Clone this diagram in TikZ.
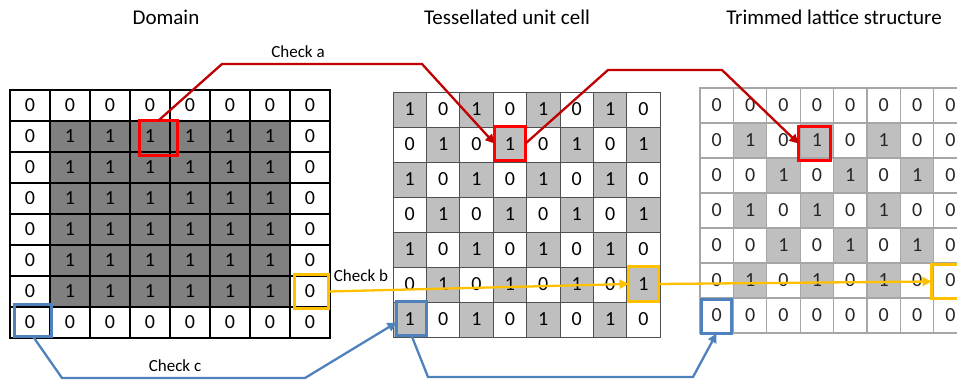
\documentclass[tikz,border=0pt]{standalone}
\usepackage{fontspec}
\setmainfont{Carlito}
\usetikzlibrary{arrows.meta}
\definecolor{dkfill}{HTML}{808080}
\definecolor{ltfill}{HTML}{BFBFBF}
\definecolor{boxred}{HTML}{FF0000}
\definecolor{linered}{HTML}{C00000}
\definecolor{gold}{HTML}{FFC000}
\definecolor{steel}{HTML}{4F81BD}
\definecolor{gtwoline}{HTML}{505050}
\definecolor{gthreeline}{HTML}{A6A6A6}
\definecolor{textgrey}{HTML}{262626}
\begin{document}
\begin{tikzpicture}[x=1pt,y=-1pt,
  cellA/.style={draw=black, line width=1.3pt, minimum width=40pt, minimum height=31pt, inner sep=0pt, outer sep=0pt, font=\fontsize{20}{23}\selectfont},
  cellB/.style={draw=gtwoline, line width=0.8pt, minimum width=33.4pt, minimum height=35pt, inner sep=0pt, outer sep=0pt, font=\fontsize{20}{23}\selectfont},
  cellC/.style={draw=gthreeline, line width=1.3pt, minimum width=33.4pt, minimum height=35pt, inner sep=0pt, outer sep=0pt, text=textgrey, font=\fontsize{20}{23}\selectfont},
  hbox/.style={line width=3pt, inner sep=0pt, outer sep=0pt},
  conn/.style={line width=2.3pt},
  tip/.style={-{Triangle[length=9pt,width=9pt]}},
  title/.style={font=\fontsize{21}{25}\selectfont, anchor=base, inner sep=0pt},
  lbl/.style={font=\fontsize{17}{20}\selectfont, anchor=base, inner sep=0pt}]
\fill[white] (0,0) rectangle (957,382);
\useasboundingbox (0,0) rectangle (957,382);
\begin{scope}
\clip (0,0) rectangle (957,382);
% titles
\node[title] (tdom) at (166,25) {Domain};
\node[title] (ttes) at (507,25) {Tessellated unit cell};
\node[title] (ttri) at (834,25) {Trimmed lattice structure};
% grid 1: Domain
\foreach \r in {1,...,8}{\foreach \c in {1,...,8}{
  \pgfmathtruncatemacro\v{and(and(\r>1,\r<8),and(\c>1,\c<8))}
  \ifnum\v=1
    \node[cellA, fill=dkfill] (d-\r-\c) at ({-10+40*\c},{74.5+31*\r}) {1};
  \else
    \node[cellA] (d-\r-\c) at ({-10+40*\c},{74.5+31*\r}) {0};
  \fi
}}
\draw[line width=2.5pt] (d-1-1.north west) rectangle (d-8-8.south east);
% grid 2: Tessellated unit cell
\foreach \r in {1,...,7}{\foreach \c in {1,...,8}{
  \pgfmathtruncatemacro\v{mod(\r+\c+1,2)}
  \ifnum\v=1
    \node[cellB, fill=ltfill] (t-\r-\c) at ({376.3+33.4*\c},{74.5+35*\r}) {1};
  \else
    \node[cellB] (t-\r-\c) at ({376.3+33.4*\c},{74.5+35*\r}) {0};
  \fi
}}
% grid 3: Trimmed lattice structure
\foreach \r in {1,...,7}{\foreach \c in {1,...,8}{
  \pgfmathtruncatemacro\v{and(and(\r>1,\r<7),and(\c>1,\c<8))*mod(\r+\c+1,2)}
  \ifnum\v=1
    \node[cellC, fill=ltfill] (m-\r-\c) at ({683.3+33.4*\c},{70.5+35*\r}) {1};
  \else
    \node[cellC] (m-\r-\c) at ({683.3+33.4*\c},{70.5+35*\r}) {0};
  \fi
}}
% highlight boxes
\node[hbox, draw=boxred, minimum width=38pt, minimum height=35pt] (ra1) at (158.5,138) {};
\node[hbox, draw=gold, minimum width=34pt, minimum height=34pt] (yb1) at (311.5,291.5) {};
\node[hbox, draw=steel, minimum width=37pt, minimum height=32pt] (bc1) at (33,320.5) {};
\node[hbox, draw=boxred, minimum width=31pt, minimum height=34pt] (ra2) at (510,143.5) {};
\node[hbox, draw=gold, minimum width=30pt, minimum height=35pt] (yb2) at (643.5,284) {};
\node[hbox, draw=steel, minimum width=30pt, minimum height=34pt] (bc2) at (411.5,318.5) {};
\node[hbox, draw=boxred, minimum width=32pt, minimum height=34pt] (ra3) at (814.5,143.5) {};
\node[hbox, draw=gold, minimum width=34pt, minimum height=34pt] (yb3) at (948.5,281.5) {};
\node[hbox, draw=steel, minimum width=30pt, minimum height=34pt] (bc3) at (716.5,316.5) {};
% bend points
\coordinate (a1) at (222,64);
\coordinate (a2) at (422,64);
\coordinate (a3) at (608,70);
\coordinate (a4) at (722,70);
\coordinate (c1) at (62,378);
\coordinate (c2) at (305,378);
\coordinate (c3) at (428,377);
\coordinate (c4) at (693,377);
% connectors
\draw[conn, linered, tip] (ra1.north) -- (a1) -- (a2) -- (ra2.west);
\draw[conn, linered, tip] (ra2.east) -- (a3) -- (a4) -- (ra3.west);
\draw[conn, gold, tip] (yb1.east) -- (yb2.west);
\draw[conn, gold, tip] (yb2.east) -- (yb3.west);
\draw[conn, steel, tip] (bc1.south) -- (c1) -- (c2) -- ([yshift=-4pt]bc2.west);
\draw[conn, steel, tip] (bc2.south) -- (c3) -- (c4) -- (bc3.south);
% labels
\node[lbl] (la) at (298,58) {Check a};
\node[lbl] (lb) at (361,281) {Check b};
\node[lbl] (lc) at (175,371) {Check c};
\end{scope}
\end{tikzpicture}
\end{document}
